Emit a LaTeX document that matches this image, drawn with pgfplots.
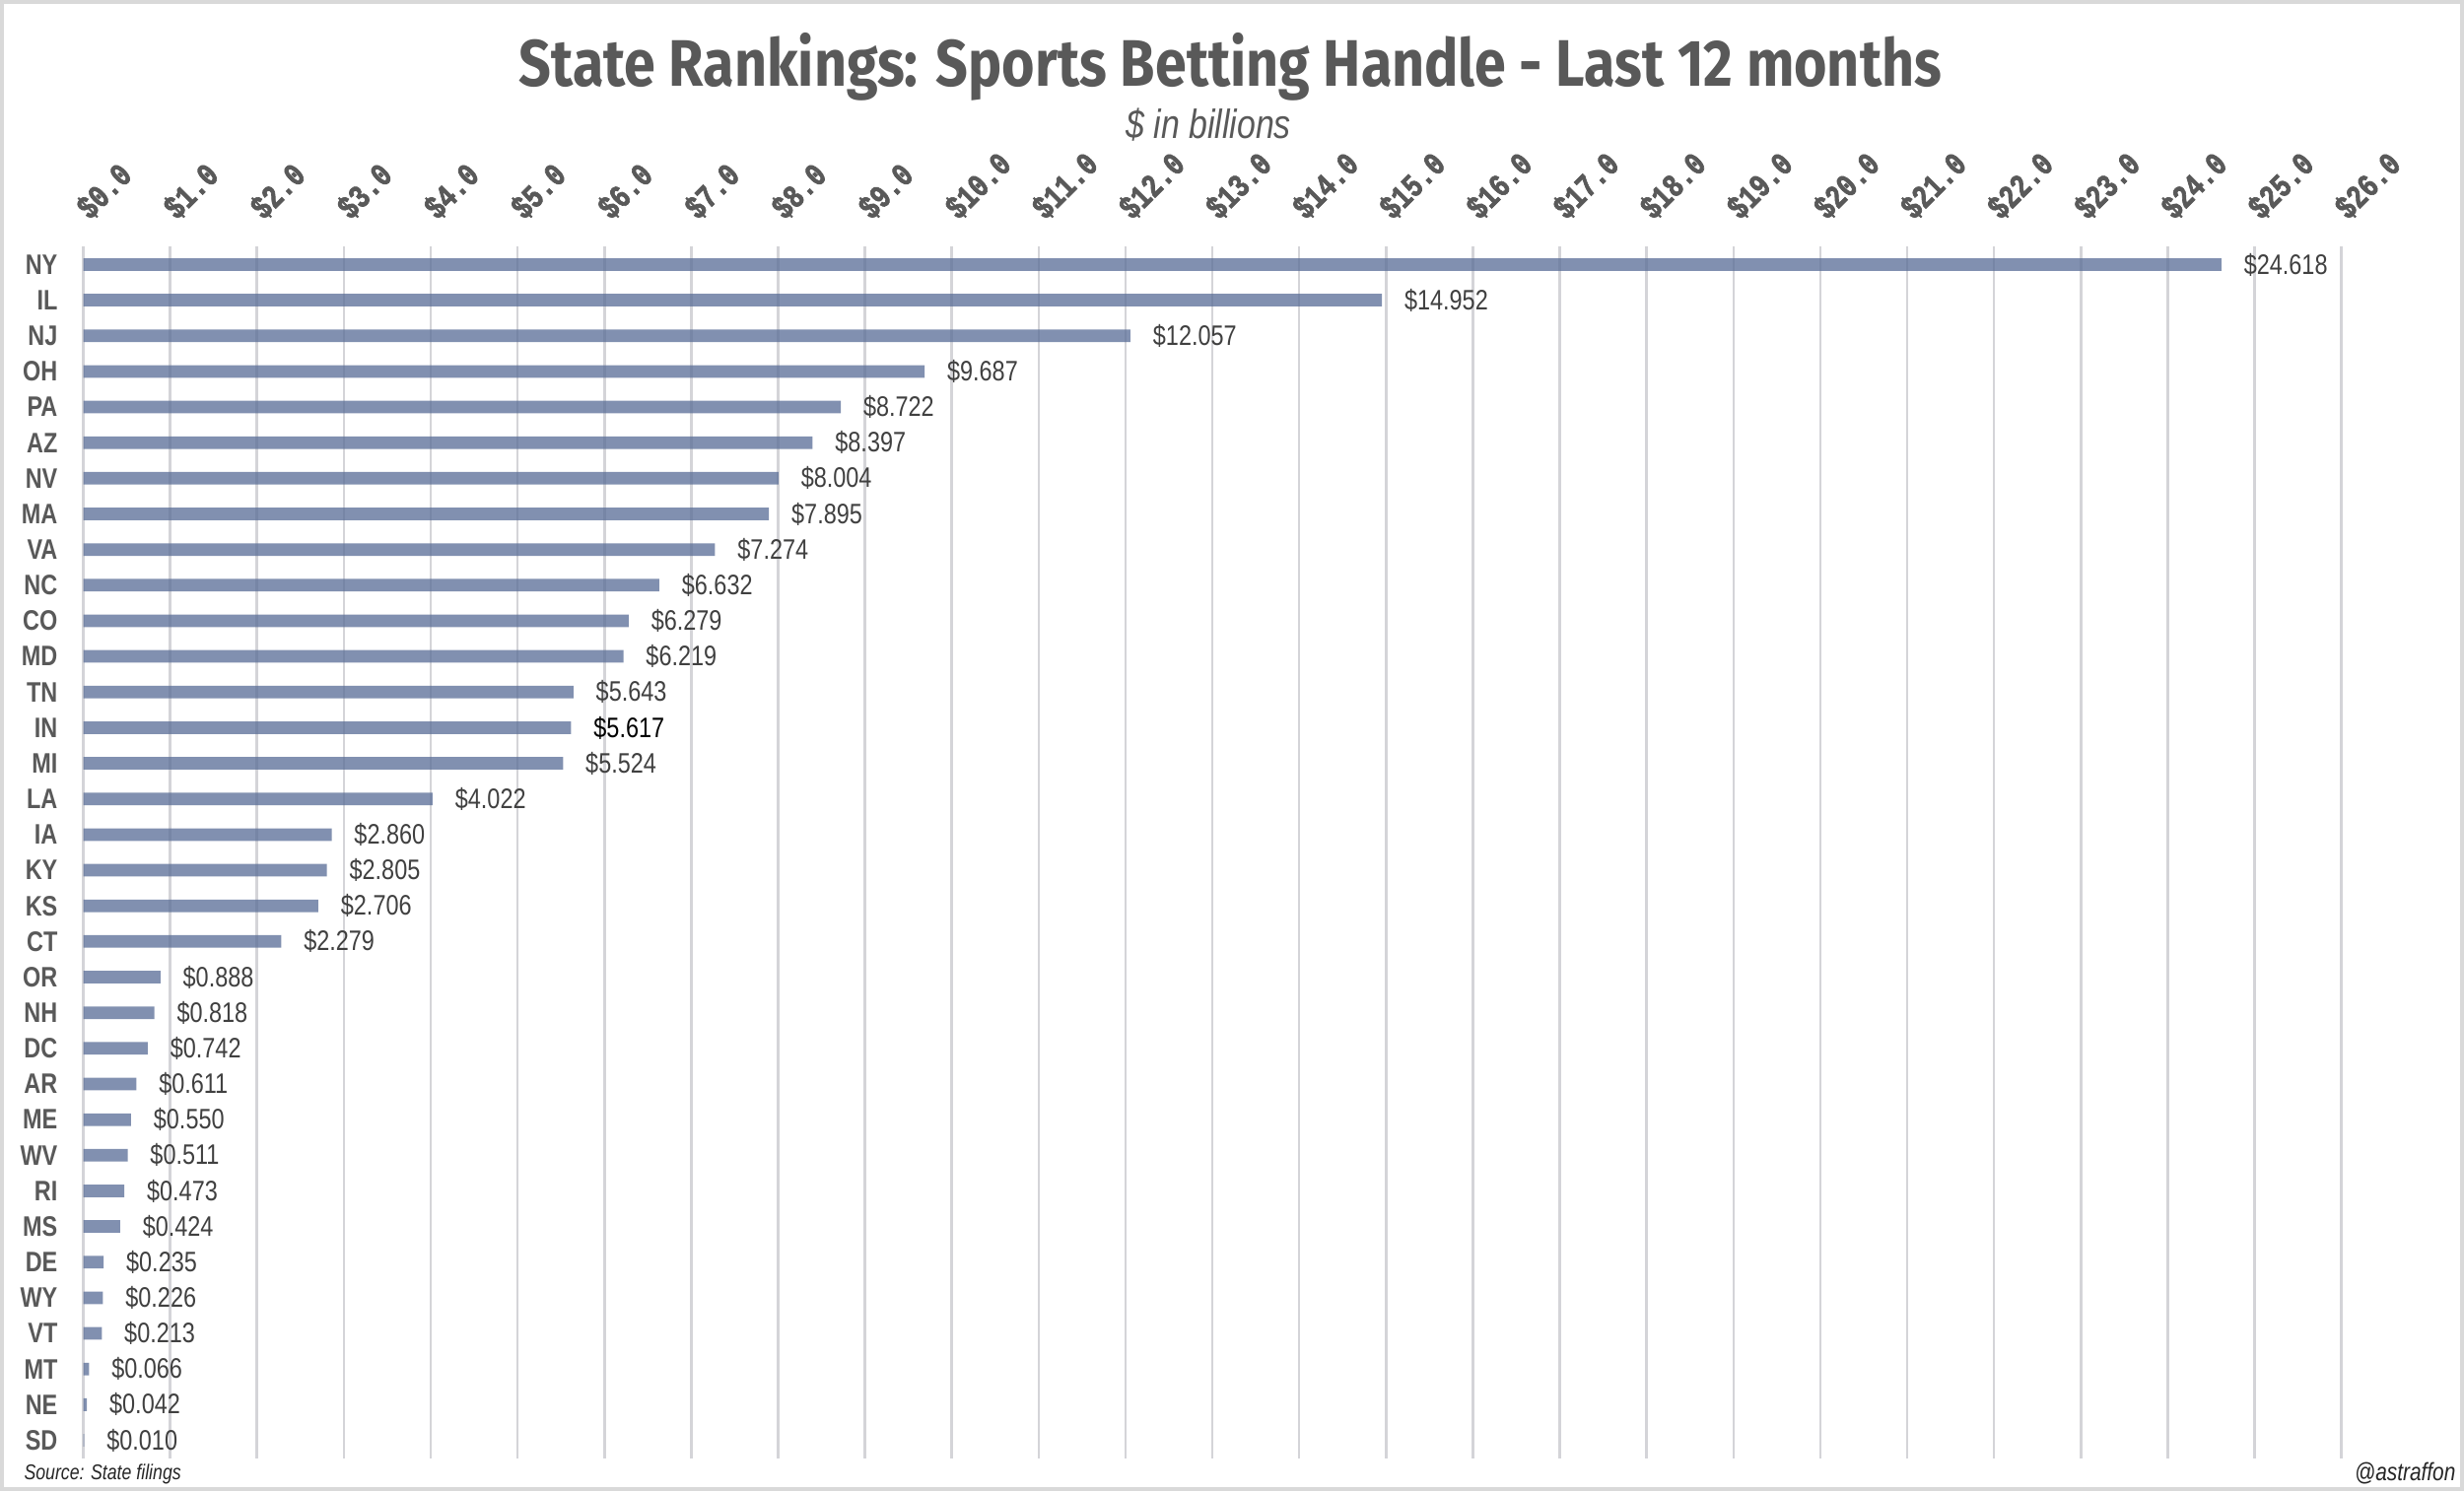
\documentclass[border=0pt]{standalone}
\usepackage{graphicx}
\usepackage{pgfplots}
\pgfplotsset{compat=1.18}
\usepackage{fontspec}
\setmainfont{Liberation Sans}[FakeStretch=0.82]
\newfontfamily\titlefont{Fira Sans}[FakeStretch=0.86]
\newfontfamily\monofont{Liberation Mono}[FakeStretch=0.78, FakeBold=2]
\newfontfamily\narrowfont{Liberation Sans}[FakeStretch=0.82]
\definecolor{barc}{RGB}{88,108,150}
\definecolor{gridc}{RGB}{212,212,216}
\definecolor{labc}{RGB}{89,89,89}
\definecolor{valc}{RGB}{64,64,64}
\definecolor{borderc}{RGB}{217,217,217}
\begin{document}
\begin{tikzpicture}
\useasboundingbox (0,0) rectangle (784bp,474.5bp);
\fill[white] (0,0) rectangle (784bp,474.5bp);
\draw[color=borderc, line width=1.2bp] (0.6bp,0.6bp) rectangle (783.4bp,473.9bp);
\node[anchor=base, color=labc, inner sep=0pt] at (391.5bp,447bp) {\titlefont\bfseries\fontsize{21}{24}\selectfont State Rankings: Sports Betting Handle - Last 12 months};
\node[anchor=base, color=labc, inner sep=0pt] at (384.5bp,430.5bp) {\narrowfont\itshape\fontsize{13}{15}\selectfont \$ in billions};
\node[anchor=west, color=black!85, inner sep=0pt] at (7.5bp,5.5bp) {\narrowfont\itshape\fontsize{6.8}{8}\selectfont Source: State filings};
\node[anchor=east, color=black!85, inner sep=0pt] at (781.5bp,5.5bp) {\narrowfont\itshape\fontsize{8}{9}\selectfont @astraffon};
\begin{axis}[
 at={(26.5bp,10.5bp)}, anchor=south west,
 scale only axis, width=718.5bp, height=385.5bp,
 xbar, bar width=4bp, bar shift=0pt,
 xmin=0, xmax=26, ymin=-0.5, ymax=33.5, y dir=reverse,
 xtick={0,...,26}, ytick={0,...,33},
 yticklabels={NY,IL,NJ,OH,PA,AZ,NV,MA,VA,NC,CO,MD,TN,IN,MI,LA,IA,KY,KS,CT,OR,NH,DC,AR,ME,WV,RI,MS,DE,WY,VT,MT,NE,SD},
 axis line style={draw=none}, major tick length=0pt,
 xmajorgrids, grid style={color=gridc, line width=0.8bp},
 xticklabel pos=right,
 /pgf/number format/assume math mode=true,
 xticklabel={\rotatebox{45}{\$\pgfmathprintnumber[fixed,fixed zerofill,precision=1]{\tick}}},
 xticklabel style={font=\monofont\bfseries\fontsize{10.5}{12}\selectfont, color=labc, anchor=south west, inner sep=0pt, xshift=-3.5bp, yshift=7.5bp},
 yticklabel style={font=\narrowfont\bfseries\fontsize{9}{10}\selectfont, color=labc, anchor=east, inner sep=0pt, xshift=-8bp},
 point meta=x,
 visualization depends on={value \coordindex\as\myidx},
 nodes near coords={\ifnum\myidx=13 \color{black}\fi\$\pgfmathprintnumber[fixed,fixed zerofill,precision=3]{\pgfplotspointmeta}},
 every node near coord/.append style={font=\narrowfont\fontsize{9}{10}\selectfont, color=valc, anchor=west, inner sep=0pt, xshift=7bp, text opacity=1, fill opacity=1},
 clip=false,
]
\addplot[fill=barc, fill opacity=0.75, draw=none] coordinates {
(24.618,0) (14.952,1) (12.057,2) (9.687,3) (8.722,4) (8.397,5) (8.004,6) (7.895,7)
(7.274,8) (6.632,9) (6.279,10) (6.219,11) (5.643,12) (5.617,13) (5.524,14) (4.022,15)
(2.860,16) (2.805,17) (2.706,18) (2.279,19) (0.888,20) (0.818,21) (0.742,22) (0.611,23)
(0.550,24) (0.511,25) (0.473,26) (0.424,27) (0.235,28) (0.226,29) (0.213,30) (0.066,31)
(0.042,32) (0.010,33)};
\end{axis}
\end{tikzpicture}
\end{document}
